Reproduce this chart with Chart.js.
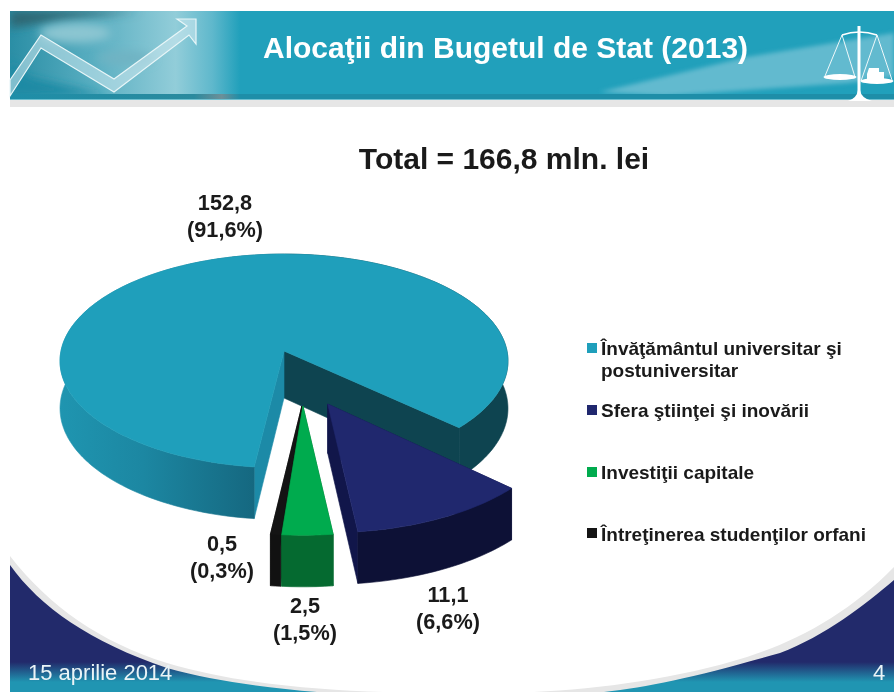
<!DOCTYPE html>
<html lang="ro"><head><meta charset="utf-8">
<style>
html,body{margin:0;padding:0;background:#fff;width:894px;height:692px;overflow:hidden}
#bg,#chart{position:absolute;left:0;top:0}
.t{position:absolute;font-family:"Liberation Sans",Arial,sans-serif;color:#fff;white-space:nowrap}
</style>
<script src="https://cdn.jsdelivr.net/npm/chart.js@4"></script>
</head><body>
<svg id="bg" width="894" height="692" viewBox="0 0 894 692">
<defs>
<clipPath id="ban"><rect x="10" y="11" width="884" height="83"/></clipPath>
<filter id="b12" x="-60%" y="-100%" width="220%" height="300%"><feGaussianBlur stdDeviation="10"/></filter>
<filter id="b5" x="-40%" y="-80%" width="180%" height="260%"><feGaussianBlur stdDeviation="5"/></filter>
<filter id="b2" x="-20%" y="-60%" width="140%" height="220%"><feGaussianBlur stdDeviation="2"/></filter>
<linearGradient id="foot" gradientUnits="userSpaceOnUse" x1="0" y1="662" x2="0" y2="682">
<stop offset="0" stop-color="#222a6b"/><stop offset="1" stop-color="#2095b2"/></linearGradient>
<linearGradient id="fadeL" gradientUnits="userSpaceOnUse" x1="10" x2="240" y1="0" y2="0">
<stop offset="0" stop-color="#2a8ea5"/><stop offset=".35" stop-color="#57adc0"/><stop offset=".72" stop-color="#92cdd9"/><stop offset=".88" stop-color="#5fb8cc"/><stop offset="1" stop-color="#21a0bb"/></linearGradient>
<linearGradient id="stripL" gradientUnits="userSpaceOnUse" x1="10" x2="240" y1="0" y2="0">
<stop offset="0" stop-color="#1e8ea8"/><stop offset=".8" stop-color="#2a8a9e"/><stop offset=".92" stop-color="#6d8f98"/><stop offset="1" stop-color="#1e8ea8"/></linearGradient>
</defs>
<rect x="10" y="11" width="884" height="83" fill="#21a0bb"/>
<g clip-path="url(#ban)">
<rect x="10" y="11" width="230" height="83" fill="url(#fadeL)"/>
<polygon points="10,11 140,11 60,20 10,28" fill="#2d6672" filter="url(#b5)"/>
<ellipse cx="75" cy="33" rx="36" ry="10" fill="#8cc6d2" filter="url(#b5)"/>
<ellipse cx="125" cy="58" rx="28" ry="7" fill="#6fb3c3" filter="url(#b5)"/>
<polygon points="10,62 30,78 110,96 10,96" fill="#1a8aa4" filter="url(#b5)"/>
<polygon points="600,92 747,57 894,33 894,77 847,83 664,96" fill="#62bacf" filter="url(#b2)"/>
</g>
<rect x="10" y="94" width="884" height="5" fill="#1e8ea8"/>
<rect x="10" y="94" width="230" height="5" fill="url(#stripL)"/>
<rect x="10" y="99" width="884" height="1" fill="#6fc0d0"/>
<rect x="10" y="100" width="884" height="7" fill="#e6e6e6"/>
<polygon points="10,80 41,35 114,79 187,26 177,19 196,19 196,44 189,35 114,92 41,48 10,96" fill="#cfeaf0" fill-opacity=".55" stroke="#e8f6f8" stroke-width="1.2"/>
<g fill="#fff" stroke="#fff">
<line x1="859" y1="26" x2="859" y2="97" stroke-width="3"/>
<path d="M842 35Q859 29 877 35" fill="none" stroke-width="1.5"/>
<path d="M842 35L825 76M842 35L855 77M877 35L861 81M877 35L892 80" fill="none" stroke-width=".9"/>
<ellipse cx="840" cy="77" rx="16.5" ry="3" stroke="none"/>
<ellipse cx="877" cy="81" rx="16.5" ry="3" stroke="none"/>
<path d="M869 68H879V72H884V81H867V74Z" stroke="none"/>
<path d="M848 101Q857 98 858 90H860Q861 98 872 101Z" stroke="none"/>
</g>
<path d="M10 556C50 607 100 642 167 663C230 682 310 690 383 692H534C600 689 680 678 747 657C800 640 850 612 894 567V692H10Z" fill="#e6e6e6"/>
<path d="M10 565C40 607 90 642 167 668C210 680 265 688 317 692H604C650 687 700 676 780 653C825 636 865 605 894 580V692H10Z" fill="url(#foot)"/>
</svg>
<canvas id="chart" width="894" height="692"></canvas>
<div class="t" id="headline" style="left:263px;top:31px;font-size:30px;font-weight:700">Alocaţii din Bugetul de Stat (2013)</div>
<div class="t" style="left:28px;top:660px;font-size:22px;color:#eaf4f7">15 aprilie 2014</div>
<div class="t" style="left:873px;top:660px;font-size:22px;color:#eaf4f7">4</div>
<script>
const categories = ["Învăţământul universitar şi postuniversitar", "Sfera ştiinţei şi inovării", "Investiţii capitale", "Întreţinerea studenţilor orfani"];
const values = [152.8, 11.1, 2.5, 0.5];
const shares = ["91,6%", "6,6%", "1,5%", "0,3%"];
const chartTitle = "Total = 166,8 mln. lei";
const legendLines = [["Învăţământul universitar şi", "postuniversitar"], ["Sfera ştiinţei şi inovării"], ["Investiţii capitale"], ["Întreţinerea studenţilor orfani"]];
const topColors = ["#1f9fbb", "#20286e", "#00ab4e", "#141414"];
const cutColors = ["#1c8aa7", "#11164a", "#046a2f", "#0f0f0f"];
const explode = [[0, 0], [0.196, 0.478], [0.085, 0.495], [0.08, 0.495]];
const paintOrder = [0, 3, 2, 1];
const labelAnchors = [[225, 204], [448, 596], [305, 607], [222, 545]];
const legendSwatchY = [343, 405, 467, 528];
const legendTextY = [[350, 372], [412], [474], [536]];

const TILT_K = 2.12, PERSP = 0.0934, SCALE_X = 0.9955, SCALE_Y = 106 / 224, DEPTH = 47;

function outerGradient(ctx, i) {
  const g = ctx.createLinearGradient(60, 0, 520, 0);
  if (i === 0) {
    g.addColorStop(0, "#1f95b0"); g.addColorStop(0.18, "#1c87a2"); g.addColorStop(0.43, "#15677f");
    g.addColorStop(0.5, "#0e4450"); g.addColorStop(1, "#0e4450");
  } else if (i === 1) {
    g.addColorStop(0, "#0d1136"); g.addColorStop(1, "#0d1136");
  } else if (i === 2) {
    g.addColorStop(0, "#056a30"); g.addColorStop(1, "#056a30");
  } else { g.addColorStop(0, "#111"); g.addColorStop(1, "#111"); }
  return g;
}

function unit(a) {
  const x = TILT_K * Math.cos(a), y = Math.sin(a), n = Math.hypot(x, y);
  return [x / n, y / n];
}
function project(arc, ox, oy, px, py, lower) {
  const R = arc.outerRadius, yy = oy + py, w = 1 - yy * PERSP;
  return [arc.x + ox * R * SCALE_X + px * R * SCALE_X / w,
          arc.y + yy * R * SCALE_Y / w + (lower ? DEPTH / Math.max(w, 0.91) : 0)];
}

const pie3d = {
  id: "pie3d",
  beforeDatasetsDraw(chart) {
    const ctx = chart.ctx, arcs = chart.getDatasetMeta(0).data;
    paintOrder.forEach(i => {
      const arc = arcs[i];
      const [ex, ey] = explode[i], STEP = Math.PI / 180;
      const n = Math.max(2, Math.ceil((arc.endAngle - arc.startAngle) / STEP));
      const rim = [];
      for (let s = 0; s <= n; s++) rim.push(unit(arc.startAngle + (arc.endAngle - arc.startAngle) * s / n));
      const poly = (pts, fill) => {
        ctx.beginPath(); pts.forEach((p, j) => j ? ctx.lineTo(p[0], p[1]) : ctx.moveTo(p[0], p[1]));
        ctx.closePath(); ctx.fillStyle = fill; ctx.strokeStyle = fill; ctx.lineWidth = 0.6; ctx.fill(); ctx.stroke();
      };
      const A = project(arc, ex, ey, 0, 0, false), Ab = project(arc, ex, ey, 0, 0, true);
      const top = rim.map(p => project(arc, ex, ey, p[0], p[1], false));
      const low = rim.map(p => project(arc, ex, ey, p[0], p[1], true));
      if (i === 0) {
        poly([A, Ab, low[n], top[n]], "#0e4450");
        poly([A, Ab, low[0], top[0]], cutColors[0]);
      } else {
        poly([A, Ab, low[0], top[0]], cutColors[i]);
        poly([A, Ab, low[n], top[n]], cutColors[i]);
      }
      poly(top.concat(low.slice().reverse()), outerGradient(ctx, i));
      poly([A].concat(top), arc.options.backgroundColor);
    });
    return false;
  },
  afterDraw(chart) {
    const ctx = chart.ctx;
    ctx.save();
    ctx.fillStyle = "#1a1a1a";
    ctx.textBaseline = "middle";
    ctx.textAlign = "center";
    ctx.font = "700 30px 'Liberation Sans', Arial, sans-serif";
    ctx.fillText(chartTitle, 504, 161);
    ctx.font = "700 21.7px 'Liberation Sans', Arial, sans-serif";
    values.forEach((v, i) => {
      const [x, y] = labelAnchors[i];
      ctx.fillText(String(v).replace(".", ","), x, y);
      ctx.fillText("(" + shares[i] + ")", x, y + 27);
    });
    ctx.textAlign = "left";
    ctx.font = "700 19px 'Liberation Sans', Arial, sans-serif";
    categories.forEach((c, i) => {
      ctx.fillStyle = topColors[i];
      ctx.fillRect(587, legendSwatchY[i], 10, 10);
      ctx.fillStyle = "#1a1a1a";
      legendLines[i].forEach((ln, j) => ctx.fillText(ln, 601, legendTextY[i][j]));
    });
    ctx.restore();
  }
};

new Chart(document.getElementById("chart"), {
  type: "pie",
  data: { labels: categories, datasets: [{ data: values, backgroundColor: topColors, borderWidth: 0 }] },
  options: {
    responsive: false, animation: false, rotation: 183.3,
    layout: { padding: { left: 60, right: 386, top: 127, bottom: 117 } },
    plugins: { legend: { display: false }, title: { display: false }, tooltip: { enabled: false } }
  },
  plugins: [pie3d]
});
</script>
</body></html>
